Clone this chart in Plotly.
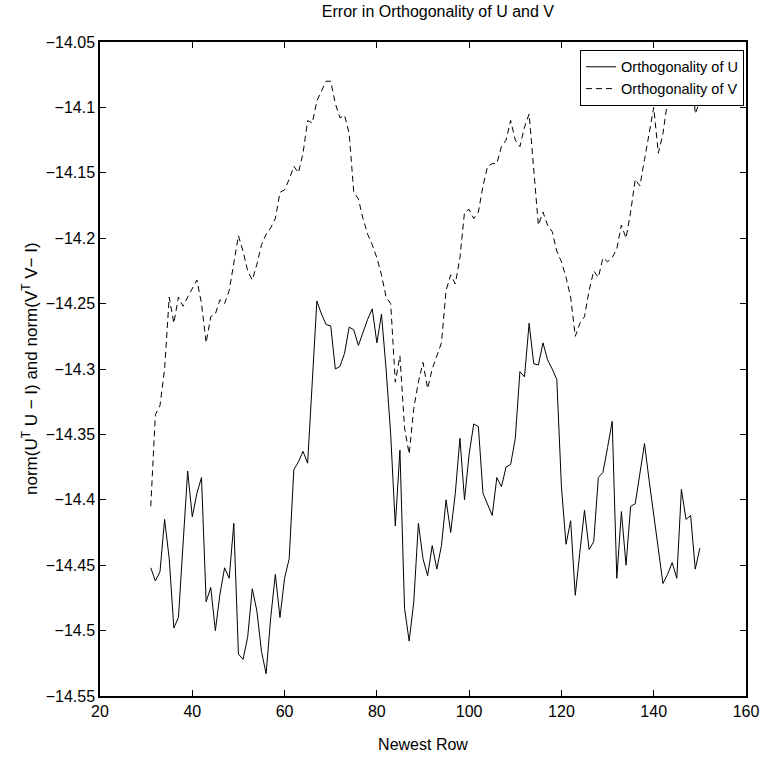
import plotly.graph_objects as go

rows = list(range(31, 151))

orth_u = [-14.452, -14.462, -14.455, -14.415, -14.445, -14.498, -14.490, -14.430, -14.378, -14.413,
          -14.395, -14.383, -14.478, -14.467, -14.500, -14.472, -14.452, -14.460, -14.418, -14.518,
          -14.522, -14.505, -14.468, -14.485, -14.516, -14.533, -14.490, -14.457, -14.490, -14.460,
          -14.445, -14.377, -14.371, -14.363, -14.372, -14.310, -14.248, -14.258, -14.266, -14.267,
          -14.300, -14.298, -14.288, -14.268, -14.270, -14.282, -14.272, -14.262, -14.254, -14.280,
          -14.258, -14.300, -14.350, -14.420, -14.362, -14.483, -14.508, -14.478, -14.418, -14.445,
          -14.458, -14.435, -14.453, -14.435, -14.400, -14.425, -14.395, -14.353, -14.400, -14.365,
          -14.342, -14.344, -14.395, -14.404, -14.412, -14.383, -14.390, -14.375, -14.373, -14.353,
          -14.302, -14.306, -14.265, -14.296, -14.297, -14.280, -14.293, -14.300, -14.308, -14.390,
          -14.434, -14.416, -14.473, -14.440, -14.408, -14.438, -14.432, -14.383, -14.379, -14.360,
          -14.340, -14.460, -14.409, -14.450, -14.405, -14.403, -14.380, -14.357, -14.385, -14.410,
          -14.437, -14.464, -14.457, -14.448, -14.460, -14.392, -14.415, -14.412, -14.453, -14.437]

orth_v = [-14.405, -14.335, -14.328, -14.300, -14.245, -14.265, -14.245, -14.252, -14.245, -14.238,
          -14.232, -14.250, -14.280, -14.260, -14.258, -14.247, -14.250, -14.240, -14.220, -14.198,
          -14.210, -14.225, -14.232, -14.220, -14.205, -14.197, -14.192, -14.185, -14.165, -14.163,
          -14.155, -14.145, -14.150, -14.135, -14.110, -14.112, -14.095, -14.088, -14.080, -14.080,
          -14.097, -14.108, -14.106, -14.120, -14.165, -14.170, -14.185, -14.197, -14.205, -14.215,
          -14.228, -14.245, -14.250, -14.310, -14.290, -14.345, -14.365, -14.330, -14.310, -14.295,
          -14.315, -14.300, -14.290, -14.280, -14.240, -14.228, -14.235, -14.215, -14.180, -14.178,
          -14.185, -14.180, -14.160, -14.145, -14.143, -14.143, -14.130, -14.125, -14.110, -14.125,
          -14.130, -14.115, -14.105, -14.145, -14.190, -14.180, -14.190, -14.195, -14.210, -14.218,
          -14.230, -14.245, -14.275, -14.265, -14.260, -14.240, -14.225, -14.230, -14.215, -14.218,
          -14.215, -14.208, -14.190, -14.200, -14.180, -14.155, -14.160, -14.140, -14.120, -14.100,
          -14.135, -14.120, -14.095, -14.088, -14.082, -14.085, -14.080, -14.058, -14.105, -14.095]

x_ticks = [20, 40, 60, 80, 100, 120, 140, 160]
y_ticks = [-14.55, -14.5, -14.45, -14.4, -14.35, -14.3, -14.25, -14.2, -14.15, -14.1, -14.05]
y_tick_text = ["\u221214.55", "\u221214.5", "\u221214.45", "\u221214.4", "\u221214.35", "\u221214.3",
               "\u221214.25", "\u221214.2", "\u221214.15", "\u221214.1", "\u221214.05"]

FONT = "Liberation Sans, Arial, sans-serif"
FS = 16

fig = go.Figure()
fig.add_trace(go.Scatter(x=rows, y=orth_u, mode="lines", name="Orthogonality of U",
                         line=dict(color="black", width=1)))
fig.add_trace(go.Scatter(x=rows, y=orth_v, mode="lines", name="Orthogonality of V",
                         line=dict(color="black", width=1, dash="6px,4px")))

axis_common = dict(showgrid=False, zeroline=False, showline=True, linecolor="black", linewidth=1.5,
                   mirror="allticks", ticks="inside", ticklen=6, tickcolor="black",
                   tickfont=dict(family=FONT, size=FS, color="black"))

fig.update_layout(
    width=771, height=763,
    margin=dict(l=100, r=15, t=42, b=65),
    paper_bgcolor="white", plot_bgcolor="white",
    font=dict(family=FONT, size=FS, color="black"),
    title=dict(text="Error in Orthogonality of U and V", x=0.568, xanchor="center", y=0.993, yanchor="top",
               font=dict(family=FONT, size=FS, color="black")),
    xaxis=dict(range=[20, 160], tickvals=x_ticks, ticktext=[str(t) for t in x_ticks],
               title=dict(text="Newest Row", font=dict(family=FONT, size=FS), standoff=20), **axis_common),
    yaxis=dict(range=[-14.55, -14.05], tickvals=y_ticks, ticktext=y_tick_text, **axis_common),
    legend=dict(x=0.997, y=0.988, xanchor="right", yanchor="top", bgcolor="white", bordercolor="black",
                borderwidth=1, font=dict(family=FONT, size=14.5), tracegroupgap=0, itemwidth=30),
    showlegend=True,
)

fig.add_annotation(text="norm(U<sup>T</sup> U \u2212 I) and norm(V<sup>T</sup> V\u2212 I)",
                   xref="paper", yref="paper", x=0, y=0.5, xanchor="center", yanchor="middle",
                   xshift=-70, textangle=-90, showarrow=False,
                   font=dict(family=FONT, size=17, color="black"))

fig.write_html("out.html")
